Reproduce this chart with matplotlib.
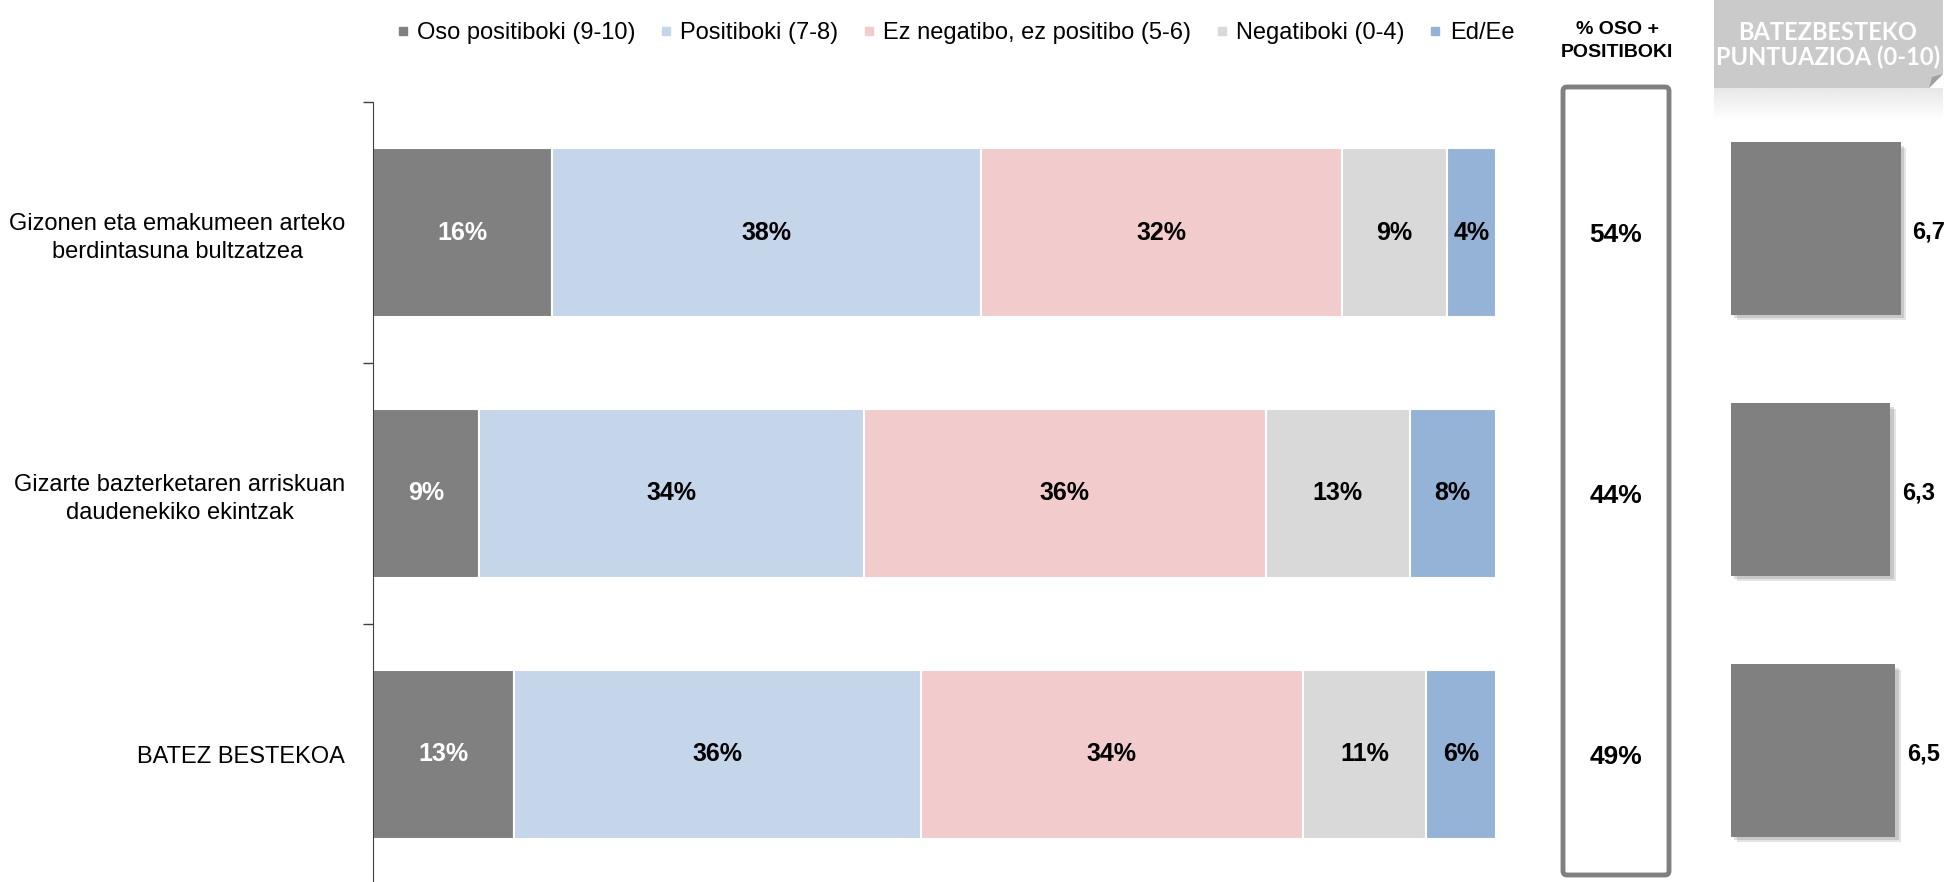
import numpy as np
import matplotlib.pyplot as plt
import matplotlib.patheffects as pe
from matplotlib.lines import Line2D
from matplotlib.patches import Polygon, FancyBboxPatch

plt.rcParams['font.family'] = ['Liberation Sans', 'DejaVu Sans']

categories = ["Gizonen eta emakumeen arteko\nberdintasuna bultzatzea",
              "Gizarte bazterketaren arriskuan\ndaudenekiko ekintzak",
              "BATEZ BESTEKOA"]
series_names = ["Oso positiboki (9-10)", "Positiboki (7-8)",
                "Ez negatibo, ez positibo (5-6)", "Negatiboki (0-4)", "Ed/Ee"]

# percentages per category (estimated, unrounded)
oso_positiboki = [15.9, 9.4, 12.6]
positiboki = [38.2, 34.3, 36.2]
ez_neg_ez_pos = [32.2, 35.8, 34.0]
negatiboki = [9.3, 12.8, 11.0]
ed_ee = [4.4, 7.7, 6.2]

oso_plus_pos = [54, 44, 49]
mean_score = [6.7, 6.3, 6.5]

colors = ["#808080", "#c5d5ea", "#f2cbcc", "#d9d9d9", "#95b3d7"]
label_colors = ["white", "black", "black", "black", "black"]

W, H = 1955, 882


def fx(px):
    return px / W


def fy(py):
    return 1 - py / H


fig = plt.figure(figsize=(W / 100, H / 100), dpi=100)

# overlay in pixel coordinates for decorations
ov = fig.add_axes([0, 0, 1, 1], zorder=0)
ov.axis('off')

ax_bottom, ax_top = fy(885), fy(102)
ax_h = ax_top - ax_bottom

# main stacked bar chart
ax = fig.add_axes([fx(373), ax_bottom, fx(1496) - fx(373), ax_h], zorder=2)
ax.set_facecolor('none')
y = np.arange(len(categories))
series = [oso_positiboki, positiboki, ez_neg_ez_pos, negatiboki, ed_ee]
left = np.zeros(len(categories))
for vals, c, lc in zip(series, colors, label_colors):
    vals = np.array(vals)
    ax.barh(y, vals, left=left, height=0.65, color=c,
            edgecolor='white', linewidth=1.5)
    for yi, l, v in zip(y, left, vals):
        ax.text(l + v / 2, yi, f"{round(v)}%", ha='center', va='center',
                fontsize=18, fontweight='bold', color=lc)
    left += vals

ax.set_xlim(0, 100)
ax.set_ylim(2.5, -0.5)
ax.set_yticks([-0.5, 0.5, 1.5, 2.5])
ax.set_yticklabels([])
ax.set_yticks(y, minor=True)
ax.set_yticklabels(categories, minor=True)
ax.tick_params(axis='y', which='major', length=7, width=1, color='#404040')
ax.tick_params(axis='y', which='minor', length=0, pad=20, labelsize=17)
for lbl in ax.get_yticklabels(minor=True):
    lbl.set_multialignment('center')
    lbl.set_linespacing(1.35)
ax.set_xticks([])
for s in ['top', 'right', 'bottom']:
    ax.spines[s].set_visible(False)
ax.spines['left'].set_color('#404040')

# legend
handles = [Line2D([], [], marker='s', ls='', color=c, markersize=6)
           for c in colors]
fig.legend(handles, series_names, loc='center',
           bbox_to_anchor=(fx(955), fy(33)), ncol=5, frameon=False,
           fontsize=17, handlelength=0.6, handletextpad=0.3,
           columnspacing=1.0)

# % oso + positiboki column
ov.text(1617, 41, "% OSO +\nPOSITIBOKI", ha='center', va='center',
        fontsize=14, fontweight='bold', linespacing=1.4)
ov.add_patch(FancyBboxPatch((1563, 87), 106, 788,
                            boxstyle="round,pad=0,rounding_size=4",
                            facecolor='white', edgecolor='#808080', lw=3.5))
ax_mid = fig.add_axes([fx(1561), ax_bottom, fx(1671) - fx(1561), ax_h],
                      zorder=2)
ax_mid.set_facecolor('none')
ax_mid.set_xlim(0, 1)
ax_mid.set_ylim(2.5, -0.5)
ax_mid.axis('off')
for yi, v in zip(y, oso_plus_pos):
    ax_mid.text(0.5, yi + 0.01, f"{v}%", ha='center', va='center',
                fontsize=19, fontweight='bold')

# mean score header
ov.add_patch(Polygon([(1714, 0), (1943, 0), (1943, 74), (1929, 88),
                      (1714, 88)], closed=True, facecolor='#cacaca',
                     edgecolor='none'))
ov.add_patch(Polygon([(1943, 74), (1929, 88), (1932, 77)], closed=True,
                     facecolor='#a0a0a0', edgecolor='none'))
grad = np.linspace(0.45, 0, 50).reshape(-1, 1)
ov.imshow(np.dstack([np.full((50, 1), 0.8)] * 3 + [grad]),
          extent=(1714, 1943, 120, 88), aspect='auto', zorder=1)
ov.set_xlim(0, W)
ov.set_ylim(H, 0)
ov.text(1828, 45, "BATEZBESTEKO\nPUNTUAZIOA (0-10)", ha='center',
        va='center', color='white', fontsize=17, fontweight='bold',
        family=['Lato', 'DejaVu Sans'], linespacing=1.1)

# mean score squares
ax_sc = fig.add_axes([fx(1731), ax_bottom, 8.5 * 25.3 / W, ax_h], zorder=2)
ax_sc.set_facecolor('none')
shadow = [pe.SimplePatchShadow(offset=(4, -4), alpha=0.12),
          pe.SimplePatchShadow(offset=(2.5, -2.5), alpha=0.15),
          pe.Normal()]
ax_sc.barh(y - 0.015, mean_score, height=0.66, color='#808080',
           path_effects=shadow)
for yi, v in zip(y, mean_score):
    ax_sc.text(v + 0.45, yi, f"{v:.1f}".replace('.', ','), ha='left',
               va='center', fontsize=17, fontweight='bold')
ax_sc.set_xlim(0, 8.5)
ax_sc.set_ylim(2.5, -0.5)
ax_sc.axis('off')

fig.savefig('out.png', dpi=100)
